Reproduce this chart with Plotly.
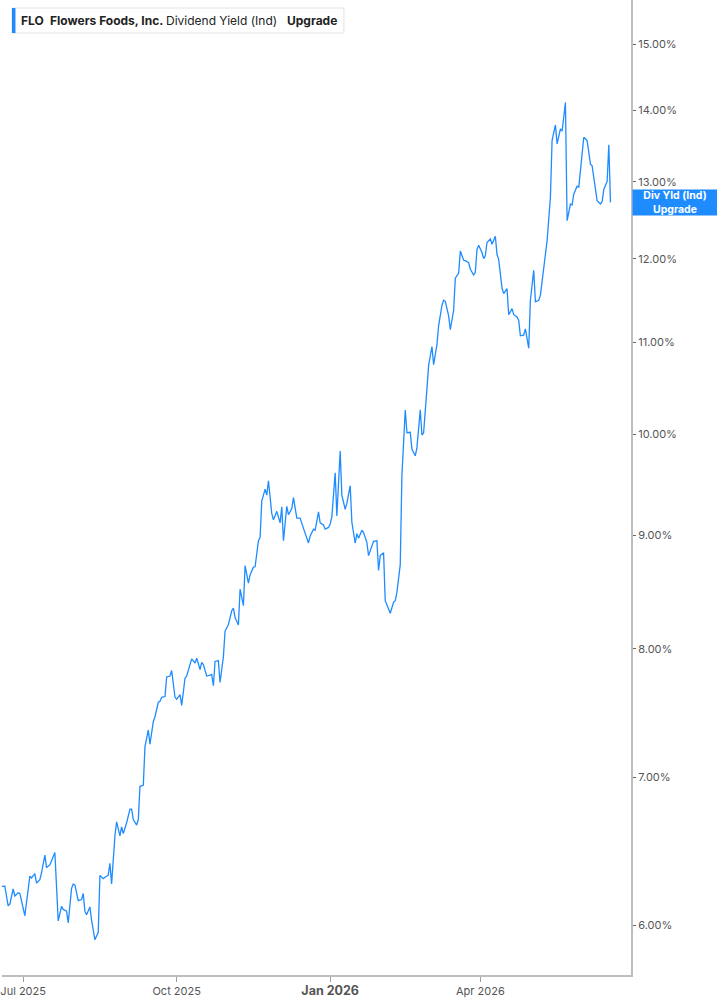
import numpy as np
import plotly.graph_objects as go

dates = [
    "2025-06-18", "2025-06-20", "2025-06-22", "2025-06-23", "2025-06-25", "2025-06-26", "2025-06-28", "2025-06-29",
    "2025-07-02", "2025-07-05", "2025-07-06", "2025-07-08", "2025-07-09", "2025-07-11", "2025-07-12", "2025-07-14",
    "2025-07-15", "2025-07-17", "2025-07-20", "2025-07-22", "2025-07-24", "2025-07-25", "2025-07-27", "2025-07-28",
    "2025-07-30", "2025-07-31", "2025-08-01", "2025-08-03", "2025-08-05", "2025-08-06", "2025-08-07", "2025-08-08",
    "2025-08-10", "2025-08-11", "2025-08-13", "2025-08-15", "2025-08-16", "2025-08-18", "2025-08-19", "2025-08-21",
    "2025-08-22", "2025-08-23", "2025-08-25", "2025-08-26", "2025-08-28", "2025-08-29", "2025-08-30", "2025-09-01",
    "2025-09-03", "2025-09-04", "2025-09-05", "2025-09-07", "2025-09-08", "2025-09-09", "2025-09-11", "2025-09-12",
    "2025-09-14", "2025-09-15", "2025-09-17", "2025-09-18", "2025-09-20", "2025-09-21", "2025-09-22", "2025-09-24",
    "2025-09-25", "2025-09-27", "2025-09-28", "2025-09-30", "2025-10-01", "2025-10-03", "2025-10-04", "2025-10-06",
    "2025-10-07", "2025-10-09", "2025-10-10", "2025-10-12", "2025-10-13", "2025-10-15", "2025-10-16", "2025-10-17",
    "2025-10-19", "2025-10-21", "2025-10-22", "2025-10-23", "2025-10-24", "2025-10-26", "2025-10-27", "2025-10-29",
    "2025-10-30", "2025-11-01", "2025-11-03", "2025-11-04", "2025-11-05", "2025-11-07", "2025-11-08", "2025-11-10",
    "2025-11-11", "2025-11-13", "2025-11-14", "2025-11-16", "2025-11-17", "2025-11-19", "2025-11-20", "2025-11-21",
    "2025-11-23", "2025-11-24", "2025-11-25", "2025-11-27", "2025-11-28", "2025-11-30", "2025-12-02", "2025-12-03",
    "2025-12-04", "2025-12-06", "2025-12-07", "2025-12-09", "2025-12-10", "2025-12-12", "2025-12-14", "2025-12-16",
    "2025-12-19", "2025-12-20", "2025-12-22", "2025-12-23", "2025-12-25", "2025-12-26", "2025-12-28", "2025-12-29",
    "2025-12-31", "2026-01-01", "2026-01-02", "2026-01-04", "2026-01-05", "2026-01-07", "2026-01-08", "2026-01-10",
    "2026-01-11", "2026-01-13", "2026-01-14", "2026-01-16", "2026-01-17", "2026-01-18", "2026-01-20", "2026-01-21",
    "2026-01-23", "2026-01-24", "2026-01-26", "2026-01-27", "2026-01-29", "2026-01-30", "2026-01-31", "2026-02-02",
    "2026-02-03", "2026-02-05", "2026-02-06", "2026-02-08", "2026-02-09", "2026-02-10", "2026-02-12", "2026-02-13",
    "2026-02-15", "2026-02-16", "2026-02-18", "2026-02-19", "2026-02-21", "2026-02-22", "2026-02-24", "2026-02-25",
    "2026-02-26", "2026-02-28", "2026-03-01", "2026-03-03", "2026-03-04", "2026-03-06", "2026-03-07", "2026-03-09",
    "2026-03-10", "2026-03-11", "2026-03-13", "2026-03-14", "2026-03-16", "2026-03-17", "2026-03-19", "2026-03-20",
    "2026-03-22", "2026-03-23", "2026-03-25", "2026-03-26", "2026-03-28", "2026-03-29", "2026-03-30", "2026-03-31",
    "2026-04-02", "2026-04-03", "2026-04-04", "2026-04-05", "2026-04-07", "2026-04-08", "2026-04-10", "2026-04-11",
    "2026-04-12", "2026-04-14", "2026-04-15", "2026-04-17", "2026-04-18", "2026-04-20", "2026-04-21", "2026-04-23",
    "2026-04-24", "2026-04-25", "2026-04-27", "2026-04-28", "2026-04-30", "2026-05-01", "2026-05-03", "2026-05-04",
    "2026-05-06", "2026-05-07", "2026-05-08", "2026-05-10", "2026-05-11", "2026-05-13", "2026-05-14", "2026-05-16",
    "2026-05-17", "2026-05-19", "2026-05-20", "2026-05-22", "2026-05-23", "2026-05-25", "2026-05-26", "2026-05-27",
    "2026-05-29", "2026-05-30", "2026-06-01", "2026-06-02", "2026-06-04", "2026-06-06", "2026-06-07", "2026-06-09",
    "2026-06-10", "2026-06-12", "2026-06-13", "2026-06-14", "2026-06-16", "2026-06-17", "2026-06-18",
]

dividend_yield = [
    6.248, 6.250, 6.124, 6.135, 6.232, 6.187, 6.207, 6.203,
    6.061, 6.316, 6.304, 6.333, 6.270, 6.293, 6.338, 6.455,
    6.372, 6.390, 6.473, 6.029, 6.120, 6.101, 6.090, 6.016,
    6.236, 6.264, 6.259, 6.157, 6.164, 6.203, 6.090, 6.068,
    6.117, 6.034, 5.911, 5.958, 6.320, 6.299, 6.309, 6.322,
    6.401, 6.264, 6.586, 6.682, 6.586, 6.647, 6.601, 6.676,
    6.772, 6.772, 6.698, 6.660, 6.698, 6.934, 6.941, 7.226,
    7.352, 7.244, 7.417, 7.454, 7.567, 7.575, 7.606, 7.612,
    7.769, 7.776, 7.821, 7.606, 7.591, 7.628, 7.543, 7.758,
    7.776, 7.861, 7.916, 7.882, 7.921, 7.829, 7.887, 7.869,
    7.776, 7.783, 7.789, 7.698, 7.895, 7.902, 7.724, 7.935,
    8.146, 8.204, 8.322, 8.345, 8.263, 8.199, 8.511, 8.366,
    8.722, 8.564, 8.638, 8.708, 8.711, 8.950, 8.980, 9.326,
    9.444, 9.385, 9.526, 9.206, 9.147, 9.228, 9.118, 9.272,
    8.950, 9.277, 9.196, 9.255, 9.360, 9.164, 9.164, 9.066,
    8.930, 8.994, 9.059, 9.049, 9.223, 9.118, 9.098, 9.059,
    9.075, 9.108, 9.174, 9.605, 9.183, 9.826, 9.385, 9.248,
    9.304, 9.477, 9.125, 8.927, 9.017, 8.974, 9.049, 9.026,
    8.936, 8.813, 8.906, 8.945, 8.950, 8.678, 8.813, 8.839,
    8.410, 8.336, 8.301, 8.395, 8.410, 8.482, 8.731, 9.581,
    10.253, 10.014, 10.019, 9.843, 9.777, 9.860, 10.256, 9.990,
    10.014, 10.484, 10.740, 10.953, 10.747, 10.978, 11.194, 11.432,
    11.492, 11.480, 11.306, 11.146, 11.373, 11.758, 11.821, 12.095,
    11.980, 11.976, 11.949, 11.869, 11.798, 11.830, 12.117, 12.169,
    12.074, 12.000, 12.039, 12.204, 12.247, 12.182, 12.282, 12.052,
    11.988, 11.639, 11.571, 11.631, 11.321, 11.393, 11.321, 11.294,
    11.254, 11.075, 11.083, 11.155, 10.934, 11.492, 11.857, 11.473,
    11.492, 11.551, 11.711, 12.009, 12.225, 12.788, 13.568, 13.789,
    13.521, 13.732, 13.700, 14.115, 12.484, 12.701, 12.688, 12.831,
    12.939, 12.926, 13.334, 13.615, 13.568, 13.239, 13.215, 12.939,
    12.744, 12.701, 12.736, 12.896, 13.004, 13.507, 12.723,
]

x_tick_dates = ["2025-07-01", "2025-10-01", "2026-01-01", "2026-04-01"]
x_tick_labels = ["Jul 2025", "Oct 2025", "<b><span style='font-size:12.5px'>Jan 2026</span></b>", "Apr 2026"]
y_tick_values = [6, 7, 8, 9, 10, 11, 12, 13, 14, 15]
y_tick_labels = ["6.00%", "7.00%", "8.00%", "9.00%", "10.00%", "11.00%", "12.00%", "13.00%", "14.00%", "15.00%"]

BLUE = "#1e8cff"
W, H = 717, 1005
ML, MR, MT, MB = 0, 86, 0, 30
PW, PH = W - ML - MR, H - MT - MB


def px(x):
    return x / PW


def py(y):
    return 1 - y / PH


fig = go.Figure()
fig.add_trace(go.Scatter(
    x=dates, y=dividend_yield, mode="lines",
    line=dict(color=BLUE, width=1.3),
    hoverinfo="skip", showlegend=False,
))

fig.update_layout(
    width=W, height=H,
    margin=dict(l=ML, r=MR, t=MT, b=MB),
    paper_bgcolor="white", plot_bgcolor="white",
    font=dict(family="Inter, Roboto, sans-serif", color="#555"),
    showlegend=False,
    xaxis=dict(
        type="date",
        range=["2025-06-18 07:26", "2026-06-30 07:10"],
        tickvals=x_tick_dates, ticktext=x_tick_labels,
        showgrid=False, zeroline=False,
        showline=True, linecolor="#bdbdbd", linewidth=2,
        ticks="outside", ticklen=5, tickcolor="#9e9e9e", tickwidth=1,
        tickfont=dict(size=11, color="#555"),
        ticklabeloverflow="allow",
    ),
    yaxis=dict(
        type="log", side="right",
        range=[np.log10(5.699), np.log10(15.702)],
        tickvals=y_tick_values, ticktext=y_tick_labels,
        showgrid=False, zeroline=False,
        showline=True, linecolor="#bdbdbd", linewidth=2,
        ticks="outside", ticklen=3, tickcolor="#666", tickwidth=1,
        tickfont=dict(size=11, color="#555"),
        ticklabeloverflow="allow",
    ),
)

# Legend box (top-left)
fig.add_shape(type="rect", xref="paper", yref="paper",
              x0=px(10), x1=px(343), y0=py(33), y1=py(8),
              line=dict(color="#e2e2e2", width=1), fillcolor="white", layer="above")
fig.add_shape(type="rect", xref="paper", yref="paper",
              x0=px(10), x1=px(13.5), y0=py(33), y1=py(8),
              line=dict(width=0), fillcolor=BLUE, layer="above")

legend_items = [
    (17, "<b>FLO</b>"),
    (46, "<b>Flowers Foods, Inc.</b>"),
    (163, "Dividend Yield (Ind)"),
    (284, "<b>Upgrade</b>"),
]
for lx, txt in legend_items:
    fig.add_annotation(xref="paper", yref="paper", x=px(lx), y=py(20.5),
                       xanchor="left", yanchor="middle", showarrow=False,
                       text=txt, font=dict(size=12, color="#222"))

# Last value label on the right axis
fig.add_annotation(
    xref="paper", yref="y", x=1, y=np.log10(dividend_yield[-1]),
    xanchor="left", yanchor="middle", xshift=1, showarrow=False,
    text="<b>Div Yld (Ind)</b><br><b>Upgrade</b>",
    font=dict(size=10.5, color="white"), align="center",
    bgcolor=BLUE, width=84, height=25, borderpad=0,
)

fig.write_html(
    "out.html",
    config={"displayModeBar": False},
    post_script="document.body.style.margin='0';document.body.style.padding='0';",
)
